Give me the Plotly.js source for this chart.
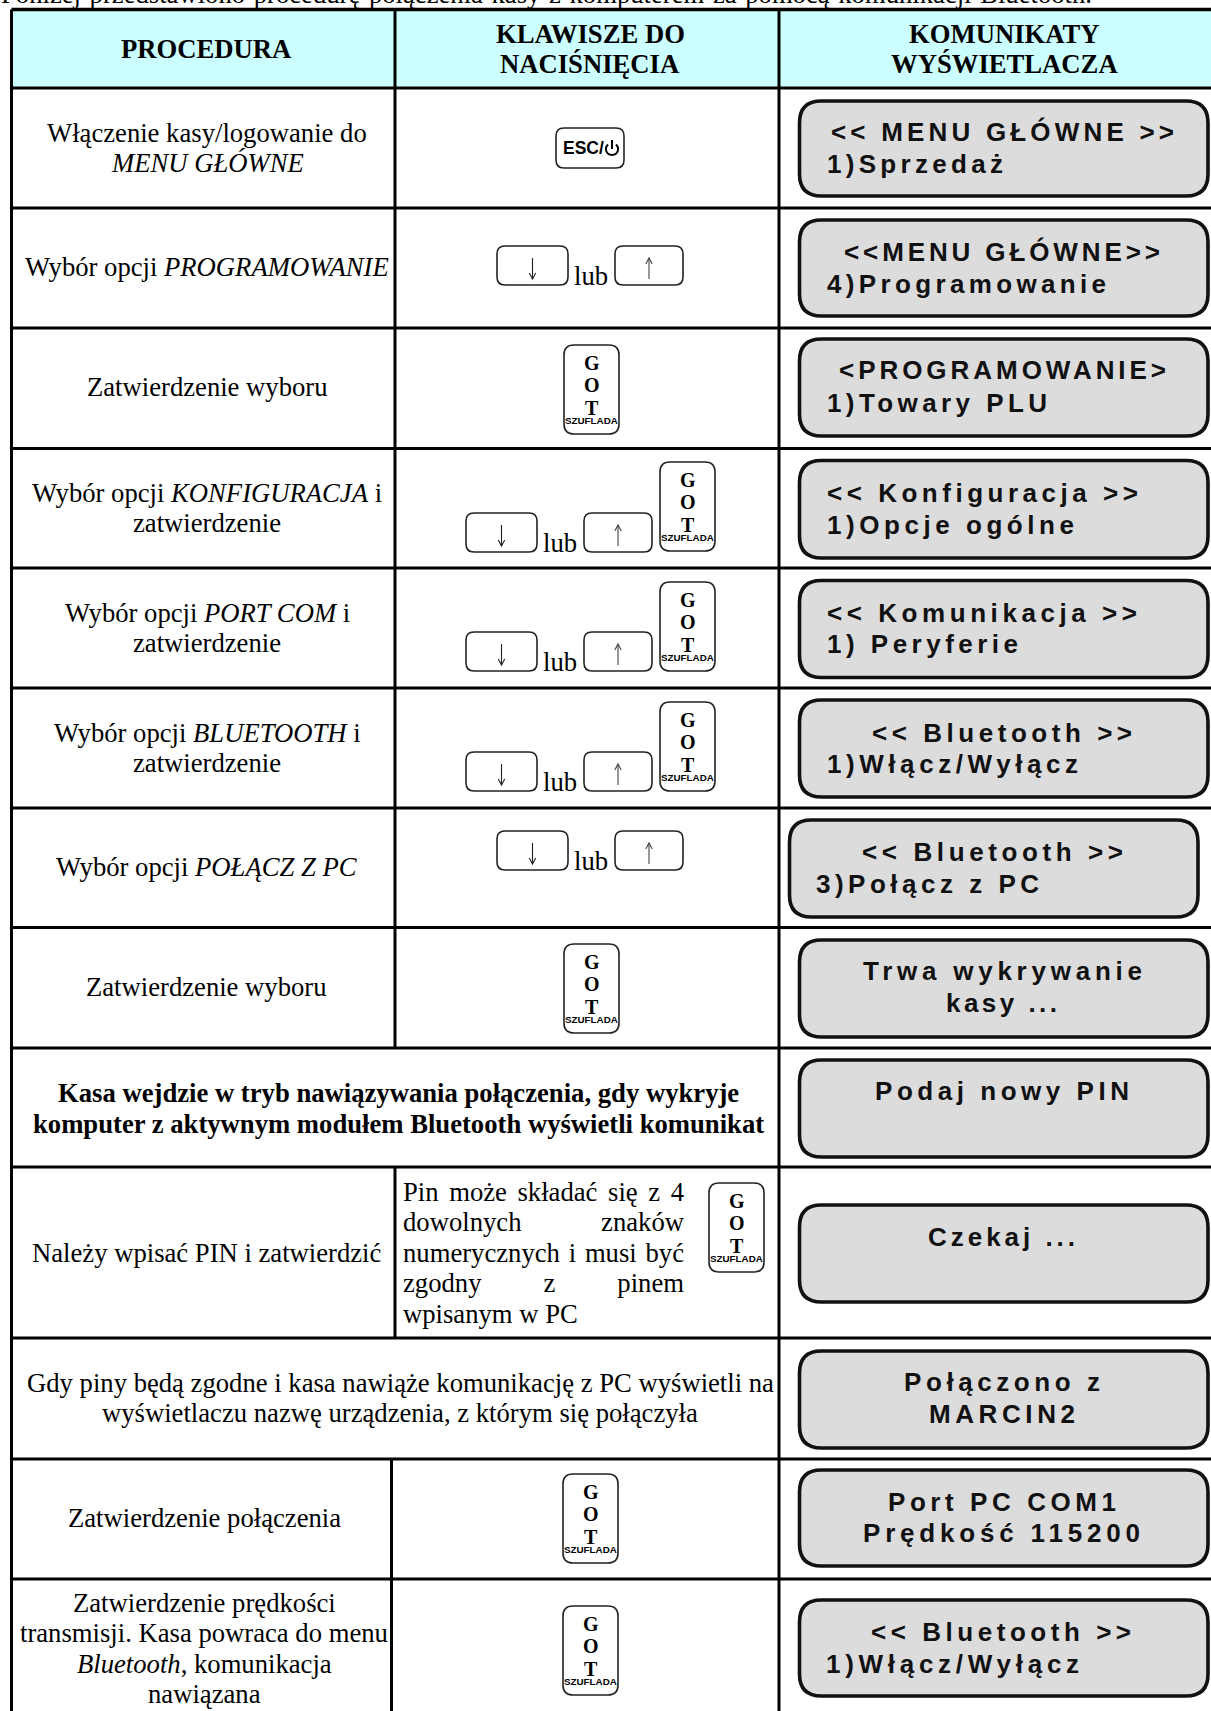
<!DOCTYPE html>
<html lang="pl">
<head>
<meta charset="utf-8">
<script src="https://cdn.plot.ly/plotly-3.0.1.min.js"></script>
<style>html,body{margin:0;padding:0;background:#fff}#chart{width:1211px;height:1711px}</style>
</head>
<body>
<div id="chart"></div>
<script>
// ---------- text content ----------
const introLine = 'Poniżej przedstawiono procedurę połączenia kasy z komputerem za pomocą komunikacji Bluetooth.';
const headerLines = [['PROCEDURA'], ['KLAWISZE DO', 'NACIŚNIĘCIA'], ['KOMUNIKATY', 'WYŚWIETLACZA']];
const procedureLines = [
  ['Włączenie kasy/logowanie do', '<i>MENU GŁÓWNE</i>'],
  ['Wybór opcji <i>PROGRAMOWANIE</i>'],
  ['Zatwierdzenie wyboru'],
  ['Wybór opcji <i>KONFIGURACJA</i> i', 'zatwierdzenie'],
  ['Wybór opcji <i>PORT COM</i> i', 'zatwierdzenie'],
  ['Wybór opcji <i>BLUETOOTH</i> i', 'zatwierdzenie'],
  ['Wybór opcji <i>POŁĄCZ Z PC</i>'],
  ['Zatwierdzenie wyboru'],
  ['Należy wpisać PIN i zatwierdzić'],
  ['Zatwierdzenie połączenia'],
  ['Zatwierdzenie prędkości', 'transmisji. Kasa powraca do menu', '<i>Bluetooth</i>, komunikacja', 'nawiązana']
];
const spanningBold = ['Kasa wejdzie w tryb nawiązywania połączenia, gdy wykryje', 'komputer z aktywnym modułem Bluetooth wyświetli komunikat'];
const spanningPlain = ['Gdy piny będą zgodne i kasa nawiąże komunikację z PC wyświetli na', 'wyświetlaczu nazwę urządzenia, z którym się połączyła'];
const pinNote = ['Pin może składać się z 4', 'dowolnych znaków', 'numerycznych i musi być', 'zgodny z pinem', 'wpisanym w PC'];
const displayLines = [
  ['<< MENU GŁÓWNE >>', '1)Sprzedaż'],
  ['<<MENU GŁÓWNE>>', '4)Programowanie'],
  ['<PROGRAMOWANIE>', '1)Towary PLU'],
  ['<< Konfiguracja >>', '1)Opcje ogólne'],
  ['<< Komunikacja >>', '1) Peryferie'],
  ['<< Bluetooth >>', '1)Włącz/Wyłącz'],
  ['<< Bluetooth >>', '3)Połącz z PC'],
  ['Trwa wykrywanie', 'kasy ...'],
  ['Podaj nowy PIN'],
  ['Czekaj ...'],
  ['Połączono z', 'MARCIN2'],
  ['Port PC COM1', 'Prędkość 115200'],
  ['<< Bluetooth >>', '1)Włącz/Wyłącz']
];
const gotLetters = ['G', 'O', 'T'];
const gotCaption = 'SZUFLADA';
const escLabel = 'ESC/';
const orLabel = 'lub';

// ---------- layout geometry (page pixels on the axes) ----------
const W = 1211, H = 1711;
const rowLines = [88, 208, 328, 448.5, 568, 688, 808, 927.5, 1048, 1167, 1338, 1459, 1579];
const tableTop = 9.5, colLeft = 11.5, colMid = 395, colMidLow = 391.5, colRight = 779;
const introWidth = 1091;
const headerCenters = [206, 590, 1004];
const headerBaselines = [[58], [43, 73], [43, 73]];
const procedureCenter = [207,207,207,207,207,207,207,206,207,204,204];
const procedureBaselines = [[142,172],[276],[396],[502,532],[622,652],[742,772],[876],[996],[1262],[1527],[1612,1642,1673,1703]];
const spanningBoldBase = [1102, 1133], spanningBoldCenter = 398;
const spanningPlainBase = [1392, 1422], spanningPlainCenter = 400;
const pinBase = [1201, 1231, 1262, 1292, 1323], pinLeft = 403, pinRight = 684;
const displayBoxes = [
  [799.5,101,1208,196],[799.5,220,1208,316],[799.5,339,1208,436],[799.5,460.5,1208,558],
  [799.5,580.5,1208,677.5],[799.5,700,1208,797],[789.5,820,1198,917],[799.5,940,1208,1037],
  [799.5,1060,1208,1157],[799.5,1205,1208,1302],[799.5,1351,1208,1448],[799.5,1470,1208,1566],[799.5,1600,1208,1696]
];
const displayExtents = [
  [[831,1174,141],[827,1003,173]], [[844,1160,261],[827,1106,293]], [[839,1166,379],[827,1047,412]],
  [[827,1138,502],[827,1074,534]], [[827,1137,622],[827,1018,653]], [[872,1132,742],[827,1078,773]],
  [[862,1123,861],[816,1039,893]], [[863,1142,980],[946,1057,1012]], [[875,1129,1100]],
  [[928,1075,1246]], [[904,1100,1391],[929,1075,1423]], [[888,1116,1511],[863,1140,1542]], [[871,1131,1641],[826,1079,1673]]
];
const gotKeys = [[564,345],[660,462],[660,582],[660,702],[564,944],[709,1183],[563,1474],[563,1606]];
const arrowKeyRows = [[497,246],[466,513],[466,632],[466,752],[497,831]];
const escKey = [556,128,624,168];

// ---------- builders ----------
const SERIF = '"Liberation Serif", "Times New Roman", serif';
const SANS = '"Liberation Sans", Arial, sans-serif';
const ASC = {[SERIF]: 0.891, [SANS]: 0.905};
const FS = 26.67, DS = 26;
const ctx = document.createElement('canvas').getContext('2d');
function measure(t, font){ ctx.font = font; return ctx.measureText(t).width; }
function esc(t){ return t.replace(/</g,'&lt;').replace(/>/g,'&gt;'); }

const annotations = [], shapes = [];
function text(t, x, base, o){
  o = o || {};
  const fam = o.family || SERIF, size = o.size || FS;
  annotations.push({
    text: t, x: x, y: base - ASC[fam]*size, xref:'x', yref:'y',
    xanchor: o.anchor || 'center', yanchor:'top', align: o.anchor === 'left' ? 'left' : 'center',
    showarrow:false, borderpad:0, borderwidth:0,
    font:{family:fam, size:size, color:o.color||'#000', weight:o.bold?'bold':'normal'}
  });
}
function line(x0,y0,x1,y1,w,c){
  shapes.push({type:'line',xref:'x',yref:'y',x0,y0,x1,y1,line:{color:c||'#000',width:w||3},layer:'above'});
}
function rrect(x0,y0,x1,y1,r,fill,stroke,w){
  const p = `M ${x0+r} ${y0} L ${x1-r} ${y0} Q ${x1} ${y0} ${x1} ${y0+r} L ${x1} ${y1-r} Q ${x1} ${y1} ${x1-r} ${y1} L ${x0+r} ${y1} Q ${x0} ${y1} ${x0} ${y1-r} L ${x0} ${y0+r} Q ${x0} ${y0} ${x0+r} ${y0} Z`;
  shapes.push({type:'path',xref:'x',yref:'y',path:p,fillcolor:fill,line:{color:stroke,width:w},layer:'above'});
}
function arrow(cx, yTail, yHead, c){
  const d = yHead > yTail ? -1 : 1;
  line(cx, yTail, cx, yHead, 1.1, c);
  shapes.push({type:'path',xref:'x',yref:'y',path:`M ${cx-3.2} ${yHead+d*6} L ${cx} ${yHead} L ${cx+3.2} ${yHead+d*6}`,line:{color:c,width:1.1},layer:'above'});
}

// header band + grid
shapes.push({type:'rect',xref:'x',yref:'y',x0:colLeft,x1:W,y0:tableTop,y1:rowLines[0],fillcolor:'#CCFFFF',line:{width:0},layer:'below'});
line(colLeft,tableTop,W,tableTop,3.5);
rowLines.forEach(y => line(colLeft,y,W,y,3));
line(colLeft,tableTop,colLeft,H,3);
line(colRight,tableTop,colRight,H,3);
line(colMid,tableTop,colMid,rowLines[8],3);
line(colMid,rowLines[9],colMid,rowLines[10],3);
line(colMidLow,rowLines[11],colMidLow,H,3);

// intro line, clipped by the top of the page as in the source: anchored by its bottom edge
const introGap = (introWidth - measure(introLine, `${FS}px ${SERIF}`)) / (introLine.split(' ').length - 1);
annotations.push({
  text:`<span style="word-spacing:${introGap.toFixed(2)}px">${introLine}</span>`,
  x:0.5, y:8.8, xref:'x', yref:'y', xanchor:'left', yanchor:'bottom', align:'left',
  showarrow:false, borderpad:0, borderwidth:0, font:{family:SERIF,size:FS,color:'#000'}
});

// headers
headerLines.forEach((ls,i) => ls.forEach((t,j) => text(t, headerCenters[i], headerBaselines[i][j], {bold:true})));

// left column
procedureLines.forEach((ls,i) => ls.forEach((t,j) => text(t, procedureCenter[i], procedureBaselines[i][j])));
spanningBold.forEach((t,j) => text(t, spanningBoldCenter, spanningBoldBase[j], {bold:true}));
spanningPlain.forEach((t,j) => text(t, spanningPlainCenter, spanningPlainBase[j]));

// justified PIN note
pinNote.forEach((t,j) => {
  let s = t;
  const n = t.split(' ').length - 1;
  if (j < pinNote.length - 1 && n > 0) {
    const gap = (pinRight - pinLeft - measure(t, `${FS}px ${SERIF}`)) / n;
    s = `<span style="word-spacing:${gap.toFixed(2)}px">${t}</span>`;
  }
  text(s, pinLeft, pinBase[j], {anchor:'left'});
});

// display panels
displayBoxes.forEach((b,i) => {
  rrect(b[0],b[1],b[2],b[3],22,'#DCDCDC','#111',3.6);
  displayLines[i].forEach((t,j) => {
    const e = displayExtents[i][j];
    const sp = (e[1]-e[0]-measure(t, `bold ${DS}px ${SANS}`)) / (t.length-1);
    text(`<span style="letter-spacing:${sp.toFixed(2)}px">${esc(t)}</span>`, e[0], e[2], {family:SANS,size:DS,bold:true,anchor:'left',color:'#111'});
  });
});

// GOT keys
gotKeys.forEach(k => {
  const x = k[0], y = k[1], cx = x + 27.5;
  rrect(x,y,x+55,y+89,10,'#fff','#222',1.6);
  text(gotLetters[0], cx, y+25, {bold:true,size:20});
  text(gotLetters[1], cx, y+47, {bold:true,size:20});
  text(gotLetters[2], cx, y+70, {bold:true,size:20});
  text(gotCaption, cx, y+79, {family:SANS,size:9.8,bold:true});
});

// arrow keys
arrowKeyRows.forEach(k => {
  const x = k[0], y = k[1];
  rrect(x,y,x+71,y+39,8,'#fff','#222',1.6);
  rrect(x+118,y,x+186,y+39,8,'#fff','#222',1.6);
  arrow(x+35.5, y+12, y+33, '#222');
  arrow(x+152, y+33, y+12, '#444');
  text(orLabel, x+77, y+39, {anchor:'left'});
});

// ESC key
rrect(escKey[0],escKey[1],escKey[2],escKey[3],8,'#fff','#222',1.6);
text(escLabel, 563, 154, {family:SANS,size:17.5,bold:true,anchor:'left'});
shapes.push({type:'path',xref:'x',yref:'y',path:'M 615.9 144.4 C 620 148 618 155 612 155 C 606 155 604 148 608.1 144.4',line:{color:'#000',width:2},layer:'above'});
line(612,140,612,149,2);

Plotly.newPlot('chart', [{type:'scatter',mode:'markers',x:[],y:[],showlegend:false,hoverinfo:'skip'}], {
  width:W, height:H, margin:{l:0,r:0,t:0,b:0}, paper_bgcolor:'#fff', plot_bgcolor:'#fff', showlegend:false,
  xaxis:{range:[0,W],visible:false,fixedrange:true,autorange:false},
  yaxis:{range:[H,0],visible:false,fixedrange:true,autorange:false},
  shapes, annotations
}, {staticPlot:true, displayModeBar:false});
</script>
</body>
</html>
